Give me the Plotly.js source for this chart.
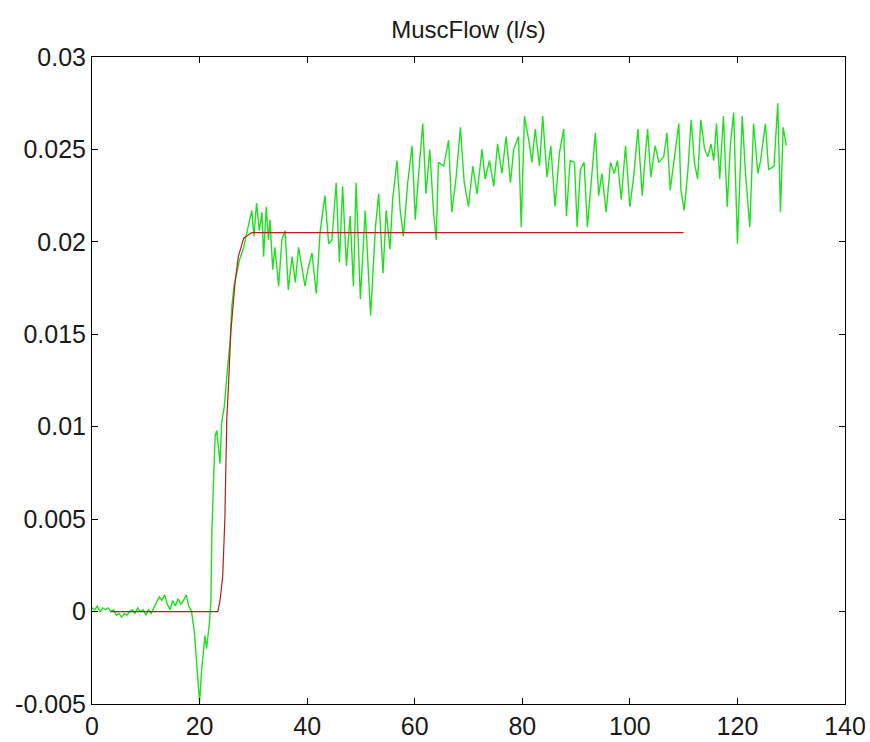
<!DOCTYPE html>
<html>
<head>
<meta charset="utf-8">
<script src="https://cdn.plot.ly/plotly-3.0.1.min.js"></script>
<style>html,body{margin:0;padding:0;background:#fff;}#chart{width:870px;height:742px;}</style>
</head>
<body>
<div id="chart"></div>
<script>
// Measured flow (green)
var greenT = [0,0.5,1,1.5,2,2.5,3,3.5,4,4.5,5,5.5,6,6.5,7,7.5,8,8.5,9,9.5,10,10.5,11,11.5,12,12.5,13,13.5,14,14.5,15,15.5,16,16.5,17,17.5,18,18.5,19,19.5,20,20.4,21,21.3,21.8,22.1,22.3,22.6,22.9,23.2,23.5,23.8,24.1,24.6,25.06,25.4,25.7,26.0,26.4,26.9,27.4,28.2,28.8,29.4,29.7,30.1,30.6,31.1,31.6,31.9,32.4,32.8,33.1,33.6,34.0,34.7,35.3,35.9,36.5,37.2,37.8,38.4,38.7,39.6,40.2,40.9,41.3,41.7,42.4,43.3,44.0,44.6,45.4,46.0,46.6,47.3,48.0,48.6,49.1,49.9,50.8,51.8,52.7,53.3,54.1,54.7,55.4,55.9,56.7,57.3,57.9,58.7,59.5,60.1,60.9,61.5,62.1,62.8,63.5,64.0,64.4,65.4,66.3,66.9,67.7,68.5,69.2,70.0,70.8,71.6,72.5,73.1,73.9,74.7,75.4,76.2,77.0,77.8,78.4,79.3,79.8,80.4,81.2,81.8,82.4,83.2,83.8,84.6,85.3,86.1,86.9,87.7,88.2,88.9,89.7,90.2,90.8,91.5,92.1,92.8,93.6,94.2,94.8,95.6,96.4,97.1,97.7,98.4,99.2,100.0,100.7,101.5,102.3,102.9,103.3,103.9,104.7,105.4,106.3,106.9,107.5,108.3,109.1,109.5,110.1,110.8,111.4,112.0,112.6,113.2,113.9,114.5,115.1,115.6,116.1,116.7,117.4,118.1,118.7,119.3,120.0,120.9,121.5,122.3,123.0,123.8,124.3,125.2,125.8,126.8,127.5,128.0,128.5,129.1];
var greenFlow = [0.0002,0.0001,0.0003,0.0000,0.0002,0.0001,0.0002,0.0000,0.0001,-0.0002,-0.0001,-0.0003,-0.0001,-0.0002,0.0000,0.0001,-0.0001,0.0002,0.0000,0.0001,-0.0002,0.0001,-0.0001,0.0002,0.0005,0.0008,0.0006,0.0009,0.0004,0.0001,0.0006,0.0003,0.0007,0.0004,0.0006,0.0009,0.0003,0.0000,-0.0010,-0.0030,-0.0049,-0.0031,-0.0013,-0.0020,-0.0007,0.0005,0.0044,0.0071,0.0095,0.0098,0.0087,0.0080,0.0102,0.0111,0.0127,0.0140,0.0147,0.0165,0.0176,0.0183,0.0190,0.0197,0.0205,0.0212,0.0217,0.0203,0.0221,0.0206,0.0216,0.0192,0.0219,0.0201,0.0212,0.0185,0.0197,0.0176,0.0201,0.0206,0.0174,0.0192,0.0178,0.0197,0.0192,0.0176,0.0186,0.0194,0.0183,0.0172,0.0205,0.0225,0.0199,0.0201,0.0232,0.0189,0.0230,0.0187,0.0214,0.0176,0.0232,0.0169,0.0217,0.0160,0.0208,0.0226,0.0183,0.0217,0.0196,0.0223,0.0244,0.0217,0.0203,0.0232,0.0252,0.0212,0.0243,0.0264,0.0226,0.0250,0.0216,0.0201,0.0243,0.0241,0.0255,0.0216,0.0235,0.0262,0.0232,0.0219,0.0241,0.0226,0.0250,0.0234,0.0244,0.0230,0.0253,0.0237,0.0257,0.0232,0.0250,0.0257,0.0208,0.0268,0.0255,0.0243,0.0261,0.0241,0.0268,0.0235,0.0252,0.0219,0.0248,0.0261,0.0214,0.0244,0.0243,0.0208,0.0239,0.0243,0.0208,0.0232,0.0259,0.0225,0.0237,0.0216,0.0243,0.0237,0.0244,0.0223,0.0252,0.0219,0.0235,0.0261,0.0225,0.0248,0.0261,0.0235,0.0252,0.0243,0.0246,0.0259,0.0228,0.0246,0.0264,0.0228,0.0217,0.0239,0.0266,0.0243,0.0234,0.0266,0.0250,0.0246,0.0253,0.0244,0.0264,0.0234,0.0268,0.0219,0.0253,0.0270,0.0199,0.0268,0.0237,0.0208,0.0264,0.0237,0.0244,0.0264,0.0239,0.0241,0.0275,0.0216,0.0262,0.0252];

// Model flow (red)
var redT = [3.5,23.4,23.8,24.3,24.7,25.06,25.4,25.8,26.6,27.2,28.2,29.7,110];
var redFlow = [0,0,0.0006,0.0019,0.005,0.0104,0.0124,0.0151,0.0178,0.0192,0.0202,0.0205,0.0205];

// Axis ticks
var xTickVals = [0,20,40,60,80,100,120,140];
var xTickText = ['0','20','40','60','80','100','120','140'];
var yTickVals = [-0.005,0,0.005,0.01,0.015,0.02,0.025,0.03];
var yTickText = ['-0.005','0','0.005','0.01','0.015','0.02','0.025','0.03'];

var traces = [
  {x: greenT, y: greenFlow, type: 'scatter', mode: 'lines',
   line: {color: 'rgb(30,225,30)', width: 1.4}, hoverinfo: 'skip'},
  {x: redT, y: redFlow, type: 'scatter', mode: 'lines',
   line: {color: 'rgb(180,30,30)', width: 1.2}, hoverinfo: 'skip'}
];

var axisCommon = {
  showgrid: false, zeroline: false, showline: true, linecolor: '#000', linewidth: 1,
  mirror: 'ticks', ticks: 'inside', ticklen: 6, tickcolor: '#000', tickwidth: 1,
  tickfont: {family: 'Liberation Sans, Arial, sans-serif', size: 25, color: '#1a1a1a'},
  tickmode: 'array'
};

var layout = {
  width: 870, height: 742,
  margin: {l: 92, r: 25, t: 57, b: 38},
  paper_bgcolor: '#fff', plot_bgcolor: '#fff',
  showlegend: false,
  title: {text: 'MuscFlow (l/s)', x: 0.5, xref: 'paper', y: 1 - 30/742, yref: 'container', yanchor: 'middle',
          font: {family: 'Liberation Sans, Arial, sans-serif', size: 24, color: '#1a1a1a'}},
  xaxis: Object.assign({}, axisCommon, {range: [0, 140], tickvals: xTickVals, ticktext: xTickText}),
  yaxis: Object.assign({}, axisCommon, {range: [-0.005, 0.03], tickvals: yTickVals, ticktext: yTickText})
};

Plotly.newPlot('chart', traces, layout, {staticPlot: true, displayModeBar: false});
</script>
</body>
</html>
